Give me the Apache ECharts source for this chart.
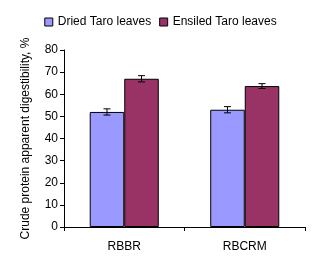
<!DOCTYPE html>
<html><head><meta charset="utf-8">
<script src="https://cdn.jsdelivr.net/npm/echarts@6/dist/echarts.min.js"></script>
<style>html,body{margin:0;padding:0;background:#fff}#c{width:321px;height:273px}</style>
</head><body><div id="c"></div>
<script>
var categories = ['RBBR', 'RBCRM'];
var seriesNames = ['Dried Taro leaves', 'Ensiled Taro leaves'];
var dried = [52, 53];
var ensiled = [67, 63.7];
var driedErr = [1.4, 1.4];
var ensiledErr = [1.4, 1.1];
var yTicks = [0, 10, 20, 30, 40, 50, 60, 70, 80];

var colors = ['#9999FF', '#993366'];
var font = 'Liberation Sans, Arial, sans-serif';

function errData(vals, errs) {
  return vals.map(function (v, i) { return [i, v - errs[i], v + errs[i]]; });
}
function errSeries(vals, errs, side) {
  return {
    type: 'custom',
    silent: true,
    z: 10,
    data: errData(vals, errs),
    encode: { x: 0, y: [1, 2] },
    renderItem: function (params, api) {
      var band = api.size([1, 0])[0];
      var off = side * band * 0.1432;
      var lo = api.coord([api.value(0), api.value(1)]);
      var hi = api.coord([api.value(0), api.value(2)]);
      var x = lo[0] + off;
      var cap = 3.5;
      var st = { stroke: '#000', lineWidth: 1 };
      return {
        type: 'group',
        children: [
          { type: 'line', shape: { x1: x, y1: lo[1], x2: x, y2: hi[1] }, style: st },
          { type: 'line', shape: { x1: x - cap, y1: lo[1], x2: x + cap, y2: lo[1] }, style: st },
          { type: 'line', shape: { x1: x - cap, y1: hi[1], x2: x + cap, y2: hi[1] }, style: st }
        ]
      };
    }
  };
}

var chart = echarts.init(document.getElementById('c'), null, { renderer: 'canvas' });
chart.setOption({
  animation: false,
  backgroundColor: '#fff',
  textStyle: { fontFamily: font },
  legend: {
    top: 11,
    left: 'center',
    itemWidth: 8,
    itemHeight: 8,
    itemGap: 8,
    textStyle: { fontFamily: font, fontSize: 12, color: '#000' },
    data: seriesNames.map(function (n, i) {
      return { name: n, icon: 'rect', itemStyle: { color: colors[i], borderColor: '#000', borderWidth: 1 } };
    })
  },
  grid: { left: 64, right: 16, top: 50, bottom: 46 },
  xAxis: {
    type: 'category',
    data: categories,
    axisLine: { lineStyle: { color: '#000' } },
    axisTick: { show: true, length: 4, lineStyle: { color: '#000' } },
    axisLabel: { color: '#000', fontSize: 12, fontFamily: font, margin: 14 }
  },
  yAxis: {
    type: 'value',
    min: 0, max: 80, interval: 10,
    name: 'Crude protein apparent digestibility, %',
    nameLocation: 'middle',
    nameGap: 32,
    nameTextStyle: { color: '#000', fontSize: 12, fontFamily: font },
    axisLine: { show: true, lineStyle: { color: '#000' } },
    axisTick: { show: true, length: 4, lineStyle: { color: '#000' } },
    axisLabel: { color: '#000', fontSize: 12, fontFamily: font, margin: 6,
      formatter: function (v) { return yTicks.indexOf(v) >= 0 ? String(v) : ''; } },
    splitLine: { show: false }
  },
  series: [
    { name: seriesNames[0], type: 'bar', data: dried, barGap: '0%', barCategoryGap: '42.7%',
      itemStyle: { color: colors[0], borderColor: '#000', borderWidth: 1 } },
    { name: seriesNames[1], type: 'bar', data: ensiled, barGap: '0%', barCategoryGap: '42.7%',
      itemStyle: { color: colors[1], borderColor: '#000', borderWidth: 1 } },
    errSeries(dried, driedErr, -1),
    errSeries(ensiled, ensiledErr, 1)
  ]
});
</script></body></html>
